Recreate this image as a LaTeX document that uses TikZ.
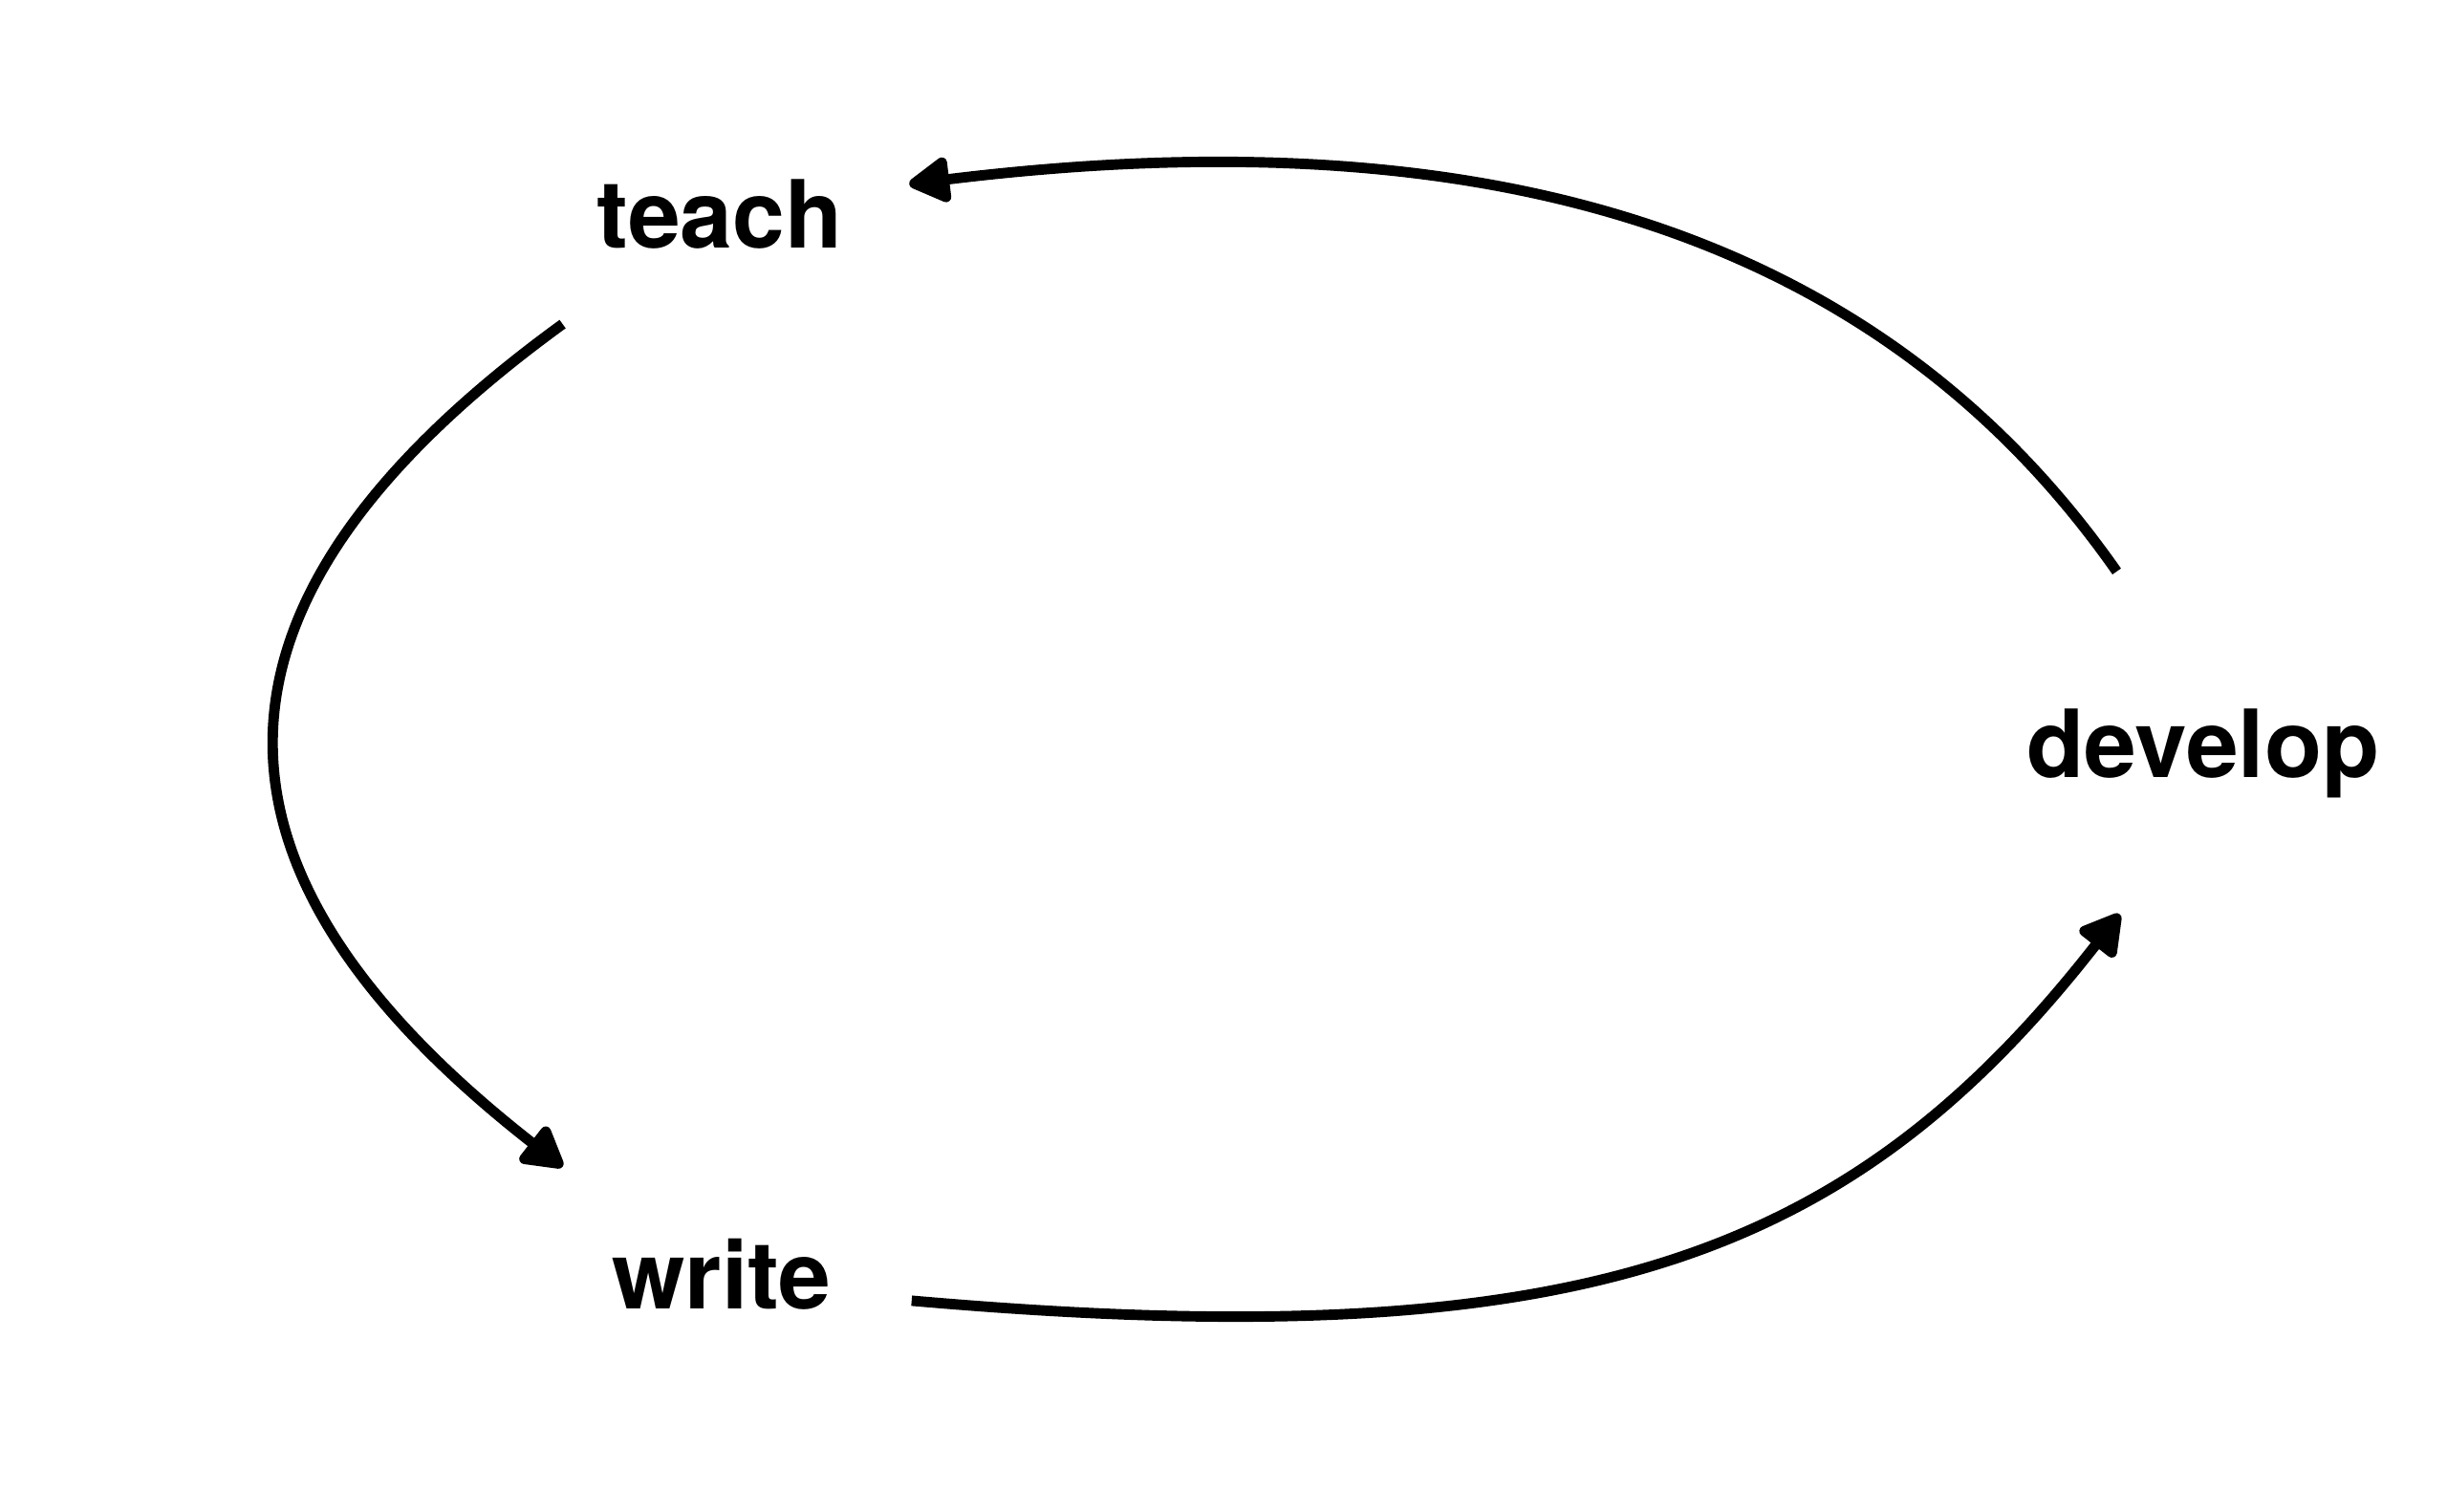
\documentclass[tikz,border=0pt]{standalone}
\usepackage{fontspec}
\setmainfont{TeX Gyre Heros}
\usetikzlibrary{arrows.meta}

\begin{document}
\begin{tikzpicture}[
  word/.style={circle, minimum size=4cm, inner sep=0pt,
    font=\fontsize{28pt}{34pt}\selectfont\bfseries},
  flow/.style={line width=3.1pt, -{Triangle[length=0.48cm,width=0.52cm,round]}}]
\useasboundingbox (0,0) rectangle (25.6,15.82);

\node[word] (teach) at (7.53,13.58) {teach};
\node[word] (write) at (7.55,2.49) {write};
\node[word] (develop) at (23.05,7.94) {develop};

\draw[flow, shorten <=1mm] (develop.115) .. controls +(125:4.5) and +(7:6) .. (teach.9);
\draw[flow] (teach.215) .. controls +(216:5) and +(142:5) .. (write.146);
\draw[flow, shorten >=-1.1mm] (write.-8) .. controls +(-5:7) and +(232:4.5) .. (develop.-118);
\end{tikzpicture}
\end{document}
